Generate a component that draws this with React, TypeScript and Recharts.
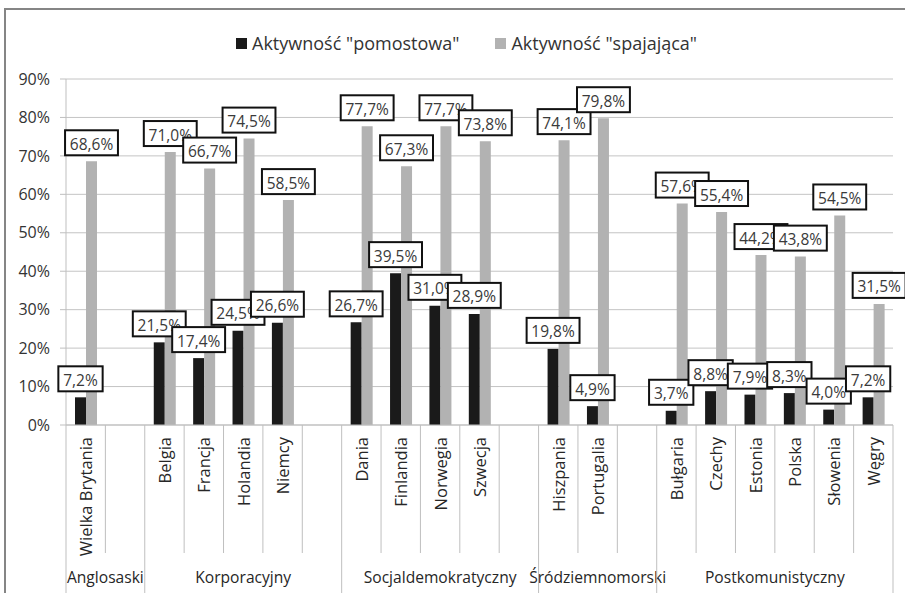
import React from 'react';
import { BarChart, Bar, XAxis, YAxis, CartesianGrid, Legend, LabelList } from 'recharts';

// kategorie (puste pozycje = odstępy między grupami)
const countries = [
  'Wielka Brytania', '',
  'Belgia', 'Francja', 'Holandia', 'Niemcy', '',
  'Dania', 'Finlandia', 'Norwegia', 'Szwecja', '',
  'Hiszpania', 'Portugalia', '',
  'Bułgaria', 'Czechy', 'Estonia', 'Polska', 'Słowenia', 'Węgry',
];
const pomostowa = [7.2, null, 21.5, 17.4, 24.5, 26.6, null, 26.7, 39.5, 31.0, 28.9, null, 19.8, 4.9, null, 3.7, 8.8, 7.9, 8.3, 4.0, 7.2];
const spajajaca = [68.6, null, 71.0, 66.7, 74.5, 58.5, null, 77.7, 67.3, 77.7, 73.8, null, 74.1, 79.8, null, 57.6, 55.4, 44.2, 43.8, 54.5, 31.5];
const groupLabels = ['Anglosaski', 'Korporacyjny', 'Socjaldemokratyczny', 'Śródziemnomorski', 'Postkomunistyczny'];
const groupStarts = [0, 2, 7, 12, 15];
const groupSpans = [2, 5, 5, 3, 6];
const yTicks = [0, 10, 20, 30, 40, 50, 60, 70, 80, 90];
const seriesNames = ['Aktywność "pomostowa"', 'Aktywność "spajająca"'];

const W = 905;
const H = 593;
const AXIS_Y = 425;
const FONT = '"Open Sans", sans-serif';
const BLACK = '#1a1a1a';
const GREY = '#b2b2b2';

const data = countries.map((c, i) => ({
  key: `k${i}`,
  name: c,
  pomostowa: pomostowa[i],
  spajajaca: spajajaca[i],
}));

function fmt(v: number) {
  return v.toFixed(1).replace('.', ',') + '%';
}

function textWidth(s: string) {
  let w = 0;
  for (const ch of s) {
    if (ch === ',') w += 3.8;
    else if (ch === '%') w += 12.3;
    else w += 8.6;
  }
  return w;
}

// etykieta w ramce nad słupkiem
function BoxLabel(props: any) {
  const { x, y, width, value } = props;
  if (value == null) return null;
  const text = fmt(Number(value));
  const w = textWidth(text) + 11;
  const h = 25;
  const cx = Number(x) + Number(width) / 2;
  const bottom = Number(y) - 6;
  return (
    <g>
      <rect x={cx - w / 2} y={bottom - h} width={w} height={h} fill="#fff" stroke="#111" strokeWidth={2} />
      <text x={cx} y={bottom - h / 2 + 1} textAnchor="middle" dominantBaseline="central" fontSize={15.5} fill="#3a3a3a" fontFamily={FONT}>
        {text}
      </text>
    </g>
  );
}

// wielopoziomowa oś kategorii
function CountryTick(props: any) {
  const { x, payload } = props;
  const index = payload?.index ?? props.index;
  const half = payload?.offset ?? 827 / 21 / 2;
  const left = x - half;
  const gi = groupStarts.indexOf(index);
  const label = countries[index];
  return (
    <g>
      <line x1={left} x2={left} y1={AXIS_Y} y2={gi >= 0 ? H + 10 : 553} stroke="#bfbfbf" strokeWidth={1} />
      {index === countries.length - 1 && (
        <line x1={x + half} x2={x + half} y1={AXIS_Y} y2={H + 10} stroke="#bfbfbf" strokeWidth={1} />
      )}
      {label && (
        <text
          x={x}
          y={437}
          transform={`rotate(-90 ${x} 437)`}
          textAnchor="end"
          dominantBaseline="central"
          fontSize={16.5}
          fill="#262626"
          fontFamily={FONT}
        >
          {label}
        </text>
      )}
      {gi >= 0 && (
        <text
          x={left + groupSpans[gi] * half}
          y={577}
          textAnchor="middle"
          dominantBaseline="central"
          fontSize={15.6}
          fill="#262626"
          fontFamily={FONT}
        >
          {groupLabels[gi]}
        </text>
      )}
    </g>
  );
}

function LegendContent() {
  const colors = [BLACK, GREY];
  return (
    <div style={{ display: 'flex', alignItems: 'center', paddingLeft: 236, fontFamily: FONT, fontSize: 18, color: '#333' }}>
      {seriesNames.map((n, i) => (
        <div key={n} style={{ display: 'flex', alignItems: 'center', marginRight: 36 }}>
          <span style={{ display: 'inline-block', width: 11, height: 11, background: colors[i], marginRight: 5 }} />
          <span>{n}</span>
        </div>
      ))}
    </div>
  );
}

export default function App() {
  const margin = { top: 79, right: 12, left: 0, bottom: 0 };
  return (
    <div style={{ position: 'absolute', left: 0, top: 0, width: W, height: H, overflow: 'hidden', background: '#fff', fontFamily: FONT }}>
      <div style={{ position: 'absolute', left: 4, top: 8, width: W + 20, height: H + 20, border: '2px solid #858585' }} />
      <div style={{ position: 'absolute', left: 0, top: 0 }}>
        <BarChart width={W} height={H} data={data} margin={margin} barGap={0} barSize={11}>
          <CartesianGrid vertical={false} stroke="#c4c4c4" />
          <YAxis
            width={66}
            domain={[0, 90]}
            ticks={yTicks}
            tickFormatter={(v) => `${v}%`}
            axisLine={{ stroke: '#bfbfbf' }}
            tickLine={{ stroke: '#bfbfbf' }}
            tickSize={6}
            tickMargin={10}
            tick={{ fontSize: 16, fill: '#333', fontFamily: FONT }}
          />
          <XAxis
            dataKey="key"
            height={168}
            interval={0}
            axisLine={{ stroke: '#bfbfbf' }}
            tickLine={false}
            tick={<CountryTick />}
          />
          <Legend
            verticalAlign="middle"
            layout="horizontal"
            wrapperStyle={{ top: 31, left: 0, width: W }}
            content={<LegendContent />}
          />
          <Bar dataKey="pomostowa" name={seriesNames[0]} fill={BLACK} isAnimationActive={false} />
          <Bar dataKey="spajajaca" name={seriesNames[1]} fill={GREY} isAnimationActive={false} />
        </BarChart>
      </div>
      {/* warstwa etykiet nad wszystkimi słupkami */}
      <div style={{ position: 'absolute', left: 0, top: 0, pointerEvents: 'none' }}>
        <BarChart width={W} height={H} data={data} margin={{ top: 79, right: 12, left: 66, bottom: 168 }} barGap={0} barSize={11}>
          <YAxis hide domain={[0, 90]} ticks={yTicks} />
          <XAxis hide dataKey="key" interval={0} />
          <Bar dataKey="pomostowa" fill="transparent" isAnimationActive={false}>
            <LabelList dataKey="pomostowa" content={<BoxLabel />} />
          </Bar>
          <Bar dataKey="spajajaca" fill="transparent" isAnimationActive={false}>
            <LabelList dataKey="spajajaca" content={<BoxLabel />} />
          </Bar>
        </BarChart>
      </div>
    </div>
  );
}
